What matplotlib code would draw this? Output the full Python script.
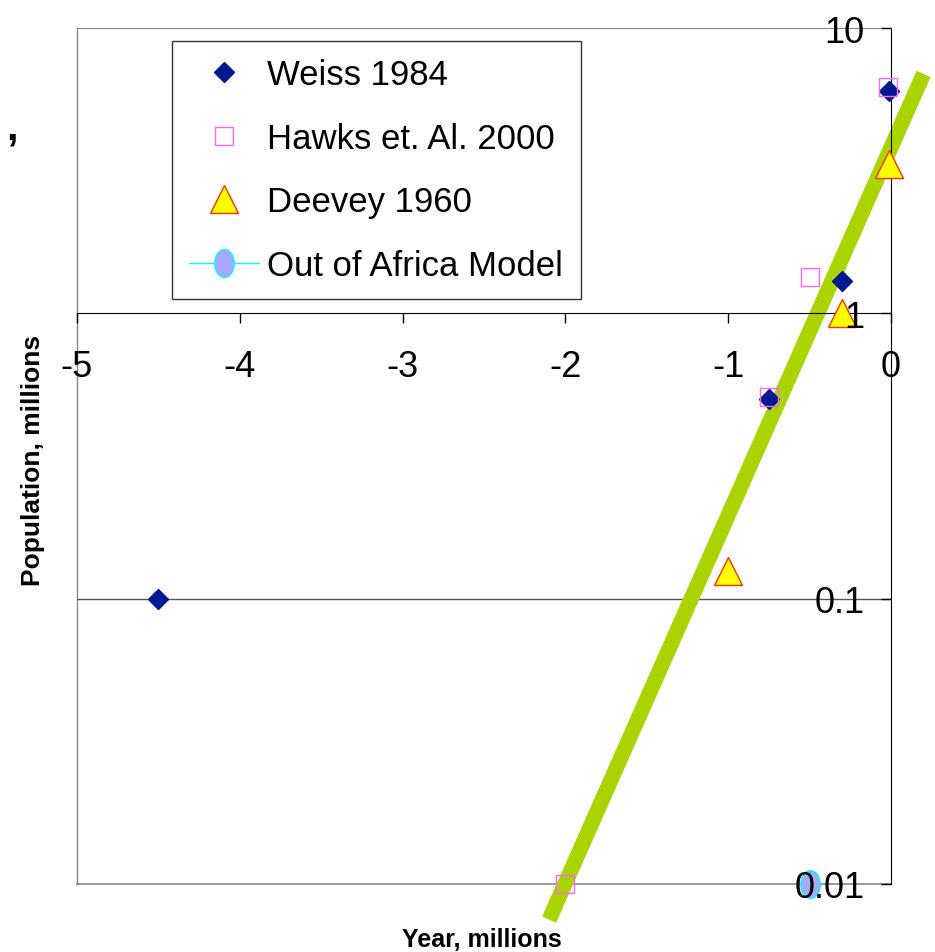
import matplotlib
matplotlib.use("Agg")
import matplotlib.pyplot as plt
from matplotlib.path import Path
import numpy as np

plt.rcParams['font.family'] = ['Liberation Sans', 'DejaVu Sans']

# data
weiss_x = [-4.5, -0.75, -0.3, -0.01]
weiss_y = [0.1, 0.5, 1.3, 6.0]
hawks_x = [-2.0, -0.75, -0.5, -0.02]
hawks_y = [0.01, 0.51, 1.34, 6.2]
deevey_x = [-1.0, -0.3, -0.01]
deevey_y = [0.125, 1.0, 3.34]
ooa_x = [-0.5]
ooa_y = [0.01]
trend_x = [-2.1, 0.2]
trend_y = [0.0075, 6.9]

xticks = [-5, -4, -3, -2, -1, 0]
yticks = [10, 1, 0.1, 0.01]
ytick_labels = ['10', '1', '0.1', '0.01']

W, H = 935, 953
fig = plt.figure(figsize=(W / 100, H / 100), dpi=100)
ax = fig.add_axes([77 / W, 1 - 885 / H, (891 - 77) / W, (885 - 29) / H])
ax.set_yscale('log')
ax.set_xlim(-5, 0)
ax.set_ylim(0.01, 10)

# oval marker for the model point
t = np.linspace(0, 2 * np.pi, 40)
oval = Path(np.column_stack([0.7 * np.cos(t), np.sin(t)]))

ax.plot(trend_x, trend_y, color='#AAD400', lw=11, solid_capstyle='butt',
        clip_on=False, zorder=2)
ax.plot(weiss_x, weiss_y, 'D', ms=10, color='#001890', ls='none',
        label='Weiss 1984', clip_on=False, zorder=4)
ax.plot(hawks_x, hawks_y, 's', ms=13, mfc='none', mec='#FF66FF', mew=1,
        ls='none', label='Hawks et. Al. 2000', clip_on=False, zorder=4)
ax.plot(deevey_x, deevey_y, '^', ms=20, mfc='#FFFF00', mec='#FF3300',
        mew=1, ls='none', label='Deevey 1960', clip_on=False, zorder=4)
ax.plot(ooa_x, ooa_y, '-', marker=oval, ms=20, mfc='#A8A8FF', mec='#00FFFF',
        mew=1, color='#00FFFF', lw=1, label='Out of Africa Model',
        clip_on=False, zorder=4)

# frame and cross lines
ax.spines['right'].set_visible(False)
ax.spines['top'].set_color('#888888')
ax.spines['left'].set_position(('data', 0))
ax.spines['left'].set_color('black')
ax.spines['bottom'].set_position(('data', 1))
ax.spines['bottom'].set_color('black')
ax.axvline(-5, color='#888888', lw=1, clip_on=False, zorder=1)
ax.axhline(0.01, color='#888888', lw=1.2, clip_on=False, zorder=1)
ax.axhline(0.1, color='#555555', lw=1, zorder=1)

ax.set_xticks(xticks)
ax.set_xticklabels([str(v) for v in xticks])
ax.set_yticks(yticks)
ax.set_yticklabels(ytick_labels)
ax.yaxis.set_minor_locator(matplotlib.ticker.NullLocator())
ax.tick_params(axis='both', length=7, width=1, direction='out',
               labelsize=26)
ax.tick_params(axis='y', pad=12)
ax.tick_params(axis='x', pad=19)
ax.xaxis.set_zorder(6)
ax.yaxis.set_zorder(6)

leg = ax.legend(loc='upper left', bbox_to_anchor=(172 / W, 1 - 42 / H),
                bbox_transform=fig.transFigure, borderaxespad=0,
                fontsize=25, frameon=True, fancybox=False, framealpha=1,
                edgecolor='#333333', labelspacing=0.88, handlelength=2.0,
                handletextpad=0.25, borderpad=0.5)
leg.get_frame().set_linewidth(1)

fig.text(482 / W, 1 - 940 / H, 'Year, millions', fontsize=18,
         fontweight='bold', ha='center', va='center')
fig.text(33 / W, 1 - 460 / H, 'Population, millions', fontsize=19,
         fontweight='bold', ha='center', va='center', rotation=90)
fig.text(12 / W, 1 - 128 / H, ',', fontsize=30, fontweight='bold',
         ha='center', va='center')

fig.savefig('out.png', dpi=100)
